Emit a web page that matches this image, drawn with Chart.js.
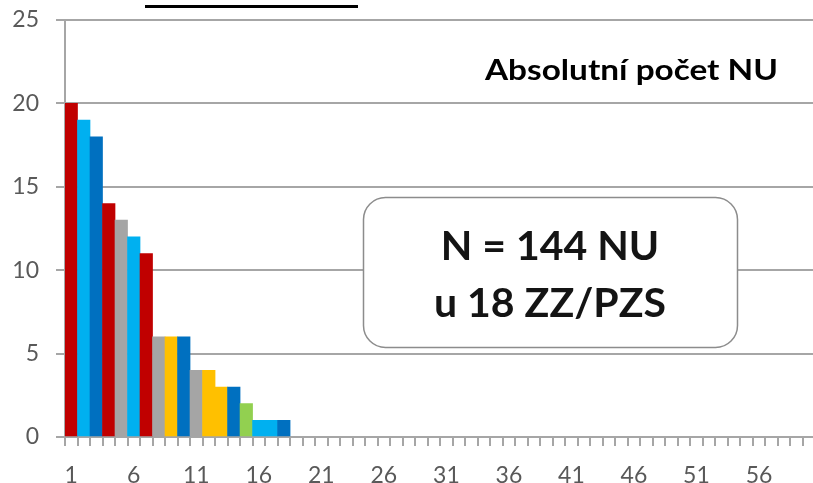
<!DOCTYPE html>
<html>
<head>
<meta charset="utf-8">
<script src="https://cdn.jsdelivr.net/npm/chart.js@4/dist/chart.umd.min.js"></script>
<style>
  html, body { margin: 0; padding: 0; background: #ffffff; overflow: hidden; }
  #wrap { position: relative; width: 825px; height: 483px; }
</style>
</head>
<body>
<div id="wrap"><canvas id="c" width="825" height="483"></canvas></div>
<script>
// ---- data ----
const categories = [1,2,3,4,5,6,7,8,9,10,11,12,13,14,15,16,17,18,19,20,
  21,22,23,24,25,26,27,28,29,30,31,32,33,34,35,36,37,38,39,40,
  41,42,43,44,45,46,47,48,49,50,51,52,53,54,55,56,57,58,59,60];
const counts = [20,19,18,14,13,12,11,6,6,6,4,4,3,3,2,1,1,1];
const barColors = ['#C00000','#00B0F0','#0070C0','#C00000','#A5A5A5','#00B0F0','#C00000',
  '#A5A5A5','#FFC000','#0070C0','#A5A5A5','#FFC000','#FFC000','#0070C0','#92D050',
  '#00B0F0','#00B0F0','#0070C0'];
const yTicks = [0,5,10,15,20,25];
const chartLabel = 'Absolutní počet NU';
const boxLines = ['N = 144 NU', 'u 18 ZZ/PZS'];

const FONT = 'Lato, "Open Sans", sans-serif';
const GRID = '#a6a6a6';

const overlay = {
  id: 'overlay',
  afterDraw(chart) {
    const ctx = chart.ctx;
    ctx.save();
    // underline of the cut-off heading at the top
    ctx.fillStyle = '#000000';
    ctx.fillRect(145, 5, 213, 3);
    // label top right (stretched to the reference width)
    ctx.font = 'bold 29px ' + FONT;
    ctx.textAlign = 'left';
    ctx.textBaseline = 'alphabetic';
    const tw = ctx.measureText(chartLabel).width;
    const sx = 293 / tw;
    ctx.save();
    ctx.translate(485, 80);
    ctx.scale(sx, 1);
    ctx.fillStyle = '#000000';
    ctx.fillText(chartLabel, 0, 0);
    ctx.restore();
    // rounded box
    const x = 363.5, y = 197.5, w = 374, h = 150, r = 22;
    ctx.beginPath();
    ctx.moveTo(x + r, y);
    ctx.arcTo(x + w, y, x + w, y + h, r);
    ctx.arcTo(x + w, y + h, x, y + h, r);
    ctx.arcTo(x, y + h, x, y, r);
    ctx.arcTo(x, y, x + w, y, r);
    ctx.closePath();
    ctx.fillStyle = '#ffffff';
    ctx.fill();
    ctx.strokeStyle = '#8c8c8c';
    ctx.lineWidth = 1.5;
    ctx.stroke();
    ctx.fillStyle = '#141414';
    ctx.font = 'bold 41px ' + FONT;
    ctx.textAlign = 'center';
    ctx.fillText(boxLines[0], 550, 260);
    ctx.fillText(boxLines[1], 550, 317);
    ctx.restore();
  }
};

new Chart(document.getElementById('c'), {
  type: 'bar',
  data: {
    labels: categories,
    datasets: [{
      data: counts,
      backgroundColor: barColors,
      borderWidth: 0,
      barPercentage: 1,
      categoryPercentage: 1
    }]
  },
  options: {
    responsive: false,
    animation: false,
    layout: { padding: { top: 20, left: 0, right: 0, bottom: 0 } },
    plugins: { legend: { display: false }, tooltip: { enabled: false } },
    scales: {
      x: {
        grid: { display: true, drawOnChartArea: false, drawTicks: true, tickLength: 9, color: GRID, lineWidth: 2, offset: true },
        border: { display: true, color: GRID, width: 2 },
        ticks: {
          autoSkip: false, maxRotation: 0, minRotation: 0, padding: 16,
          color: '#595959', font: { family: FONT, size: 23 },
          callback: function(v, i) { const c = categories[i]; return (c - 1) % 5 === 0 ? String(c) : ''; }
        },
        afterFit: s => { s.height = 46; }
      },
      y: {
        min: 0, max: 25,
        afterBuildTicks: s => { s.ticks = yTicks.map(v => ({ value: v })); },
        grid: { color: GRID, lineWidth: 2, drawTicks: true, tickLength: 9 },
        border: { display: true, color: GRID, width: 2 },
        ticks: { color: '#595959', font: { family: FONT, size: 23, lineHeight: 0.1 }, padding: 17 },
        afterFit: s => { s.width = 65; }
      }
    }
  },
  plugins: [overlay]
});
</script>
</body>
</html>
